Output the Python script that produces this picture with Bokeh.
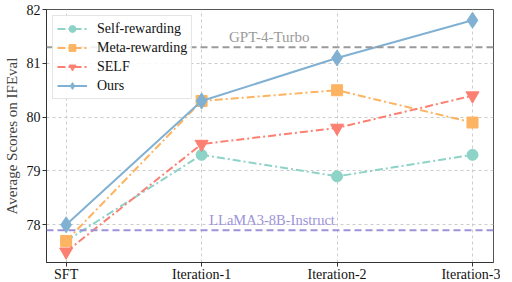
from bokeh.plotting import figure
from bokeh.models import Range1d, FixedTicker, Span, Label, Legend, LegendItem
from bokeh.embed import file_html
from bokeh.resources import INLINE

categories = ["SFT", "Iteration-1", "Iteration-2", "Iteration-3"]
self_rewarding = [77.7, 79.3, 78.9, 79.3]
meta_rewarding = [77.7, 80.3, 80.5, 79.9]
self_method = [77.5, 79.5, 79.8, 80.4]
ours = [78.0, 80.3, 81.1, 81.8]
gpt4_turbo = 81.3
llama3_instruct = 77.9
y_ticks = [78, 79, 80, 81, 82]

xs = list(range(len(categories)))
FONT = "Liberation Serif"

p = figure(width=500, height=284, output_backend="svg", toolbar_location=None,
           x_range=Range1d(-0.145, 3.155), y_range=Range1d(77.3, 82.0),
           min_border_left=40, min_border_right=7, min_border_top=9, min_border_bottom=10)

p.outline_line_color = "#555555"
p.outline_line_width = 1
p.xgrid.grid_line_color = "#cccccc"
p.ygrid.grid_line_color = "#cccccc"
p.xgrid.grid_line_dash = "3 3"
p.ygrid.grid_line_dash = "3 3"

p.xaxis.ticker = FixedTicker(ticks=xs)
p.xaxis.major_label_overrides = {i: c for i, c in enumerate(categories)}
p.yaxis.ticker = FixedTicker(ticks=y_ticks)
for ax in (p.xaxis, p.yaxis):
    ax.major_label_text_font = FONT
    ax.major_label_text_font_style = "normal"
    ax.major_label_text_font_size = "14px"
    ax.major_label_text_color = "#111111"
    ax.axis_line_color = "#333333"
    ax.major_tick_line_color = "#333333"
    ax.major_tick_out = 4
    ax.major_tick_in = 0
    ax.minor_tick_line_color = None
p.xaxis.major_label_standoff = 0
p.yaxis.major_label_standoff = 2
p.yaxis.axis_label = "Average Scores on IFEval"
p.yaxis.axis_label_text_font = FONT
p.yaxis.axis_label_text_font_style = "normal"
p.yaxis.axis_label_text_font_size = "15px"
p.yaxis.axis_label_standoff = 4

p.add_layout(Span(location=gpt4_turbo, dimension="width", line_color="#9a9a9a",
                  line_width=2, line_dash="7 4"))
p.add_layout(Span(location=llama3_instruct, dimension="width", line_color="#9d93d9",
                  line_width=2, line_dash="7 4"))
p.add_layout(Label(x=1.5, y=gpt4_turbo, text="GPT-4-Turbo", text_align="center",
                   text_baseline="bottom", y_offset=2, text_font=FONT,
                   text_font_size="15px", text_color="#9a9a9a"))
p.add_layout(Label(x=1.52, y=llama3_instruct, text="LLaMA3-8B-Instruct", text_align="center",
                   text_baseline="bottom", y_offset=2, text_font=FONT,
                   text_font_size="14.5px", text_color="#9d93d9"))

c_sr, c_mr, c_self, c_ours = "#8dd3c7", "#fdb462", "#fb8072", "#80b1d3"

l1 = p.line(xs, self_rewarding, line_color=c_sr, line_width=2, line_dash="8 3 2 3")
m1 = p.scatter(xs, self_rewarding, marker="circle", size=11, fill_color=c_sr, line_color=c_sr)
l2 = p.line(xs, meta_rewarding, line_color=c_mr, line_width=2, line_dash="8 3 2 3")
m2 = p.scatter(xs, meta_rewarding, marker="square", size=11, fill_color=c_mr, line_color=c_mr)
l3 = p.line(xs, self_method, line_color=c_self, line_width=2, line_dash="8 3 2 3")
m3 = p.scatter(xs, self_method, marker="inverted_triangle", size=13, fill_color=c_self, line_color=c_self)
l4 = p.line(xs, ours, line_color=c_ours, line_width=2)
m4 = p.scatter(xs, ours, marker="diamond", size=16, fill_color=c_ours, line_color=c_ours)

legend = Legend(items=[
    LegendItem(label="Self-rewarding", renderers=[l1, m1]),
    LegendItem(label="Meta-rewarding", renderers=[l2, m2]),
    LegendItem(label="SELF", renderers=[l3, m3]),
    LegendItem(label="Ours", renderers=[l4, m4]),
], location="top_left")
legend.label_text_font = FONT
legend.label_text_font_size = "14px"
legend.label_text_color = "#111111"
legend.border_line_color = "#cccccc"
legend.background_fill_alpha = 0.85
legend.glyph_width = 30
legend.label_height = 17
legend.glyph_height = 17
legend.spacing = 2
legend.padding = 4
legend.margin = 6
legend.label_standoff = 10
p.add_layout(legend)

open("out.html", "w").write(file_html(p, INLINE))
